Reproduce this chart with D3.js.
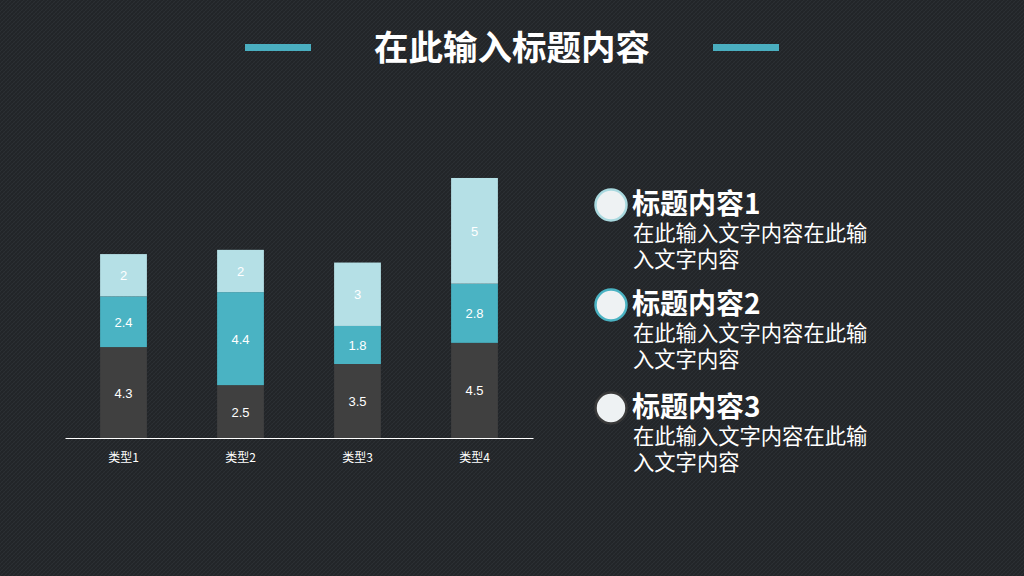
<!DOCTYPE html>
<html><head><meta charset="utf-8">
<script src="https://cdn.jsdelivr.net/npm/d3@7"></script>
<style>html,body{margin:0;padding:0;background:#24272a;}svg{display:block;}</style>
</head><body>
<svg id="chart" width="1024" height="576"></svg>
<script>
const categories = ["类型1","类型2","类型3","类型4"];
const series1 = [4.3, 2.5, 3.5, 4.5];
const series2 = [2.4, 4.4, 1.8, 2.8];
const series3 = [2, 2, 3, 5];
const seriesColors = ["#404040", "#4ab3c3", "#b5e0e6"];
const title = "在此输入标题内容";
const legendTitles = ["标题内容1","标题内容2","标题内容3"];
const legendLine1 = "在此输入文字内容在此输";
const legendLine2 = "入文字内容";
const legendBorders = ["#a9d9df", "#4ab3c3", "#3a3a3a"];

const svg = d3.select("#chart");
const defs = svg.append("defs");
const pat = defs.append("pattern").attr("id","bgp").attr("width",4).attr("height",4).attr("patternUnits","userSpaceOnUse");
pat.append("rect").attr("width",4).attr("height",4).attr("fill","#222528");
pat.append("path").attr("d","M0,4 L4,0").attr("stroke","#2b2f33").attr("stroke-width",1);
pat.append("path").attr("d","M0,0 L4,4").attr("stroke","#272a2e").attr("stroke-width",0.7);
svg.append("rect").attr("width",1024).attr("height",576).attr("fill","url(#bgp)");

// Title
svg.append("text").attr("x",512).attr("y",60).attr("text-anchor","middle")
  .attr("font-family","'Noto Sans CJK SC'").attr("font-weight","bold").attr("font-size",34.5)
  .attr("fill","#ffffff").text(title);
svg.append("rect").attr("x",245).attr("y",44).attr("width",66).attr("height",7).attr("fill","#4aaec0");
svg.append("rect").attr("x",713).attr("y",44).attr("width",66).attr("height",7).attr("fill","#4aaec0");

// Chart
const x = d3.scaleBand().domain(categories).range([65,533]).paddingInner(0.6).paddingOuter(0.3);
const y = d3.scaleLinear().domain([0,14]).range([438,438-14*21.14]);
const data = categories.map((c,i)=>({cat:c, s0:series1[i], s1:series2[i], s2:series3[i]}));
const stack = d3.stack().keys(["s0","s1","s2"])(data);

const g = svg.append("g");
stack.forEach((layer,li)=>{
  g.selectAll(null).data(layer).enter().append("rect")
    .attr("x",d=>x(d.data.cat)).attr("width",x.bandwidth())
    .attr("y",d=>y(d[1])).attr("height",d=>y(d[0])-y(d[1]))
    .attr("fill",seriesColors[li]);
  g.selectAll(null).data(layer).enter().append("text")
    .attr("x",d=>x(d.data.cat)+x.bandwidth()/2)
    .attr("y",d=>(y(d[0])+y(d[1]))/2+5)
    .attr("text-anchor","middle").attr("font-family","Arial, 'Liberation Sans'").attr("font-size",13)
    .attr("fill","#ffffff").text(d=>d[1]-d[0] ? +(d[1]-d[0]).toFixed(1) : "");
});

const axis = svg.append("g").attr("transform","translate(0,438)")
  .call(d3.axisBottom(x).tickSize(0).tickPadding(15));
axis.select(".domain").attr("stroke","#ffffff").attr("stroke-width",1.2);
axis.selectAll("text").attr("fill","#ffffff").attr("font-size",12)
  .attr("font-family","'Noto Sans CJK SC'");

// Legend
const ly = [205, 305, 408];
legendTitles.forEach((t,i)=>{
  svg.append("circle").attr("cx",611).attr("cy",ly[i]).attr("r",15.5)
    .attr("fill","#eef2f3").attr("stroke",legendBorders[i]).attr("stroke-width",2.5);
  svg.append("text").attr("x",632).attr("y",ly[i]+9).attr("font-family","'Noto Sans CJK SC'")
    .attr("font-weight","bold").attr("font-size",28).attr("fill","#ffffff").text(t);
  svg.append("text").attr("x",633).attr("y",ly[i]+36).attr("font-family","'Noto Sans CJK SC'")
    .attr("font-size",21.3).attr("fill","#ffffff").text(legendLine1);
  svg.append("text").attr("x",633).attr("y",ly[i]+62).attr("font-family","'Noto Sans CJK SC'")
    .attr("font-size",21.3).attr("fill","#ffffff").text(legendLine2);
});
</script>
</body></html>
